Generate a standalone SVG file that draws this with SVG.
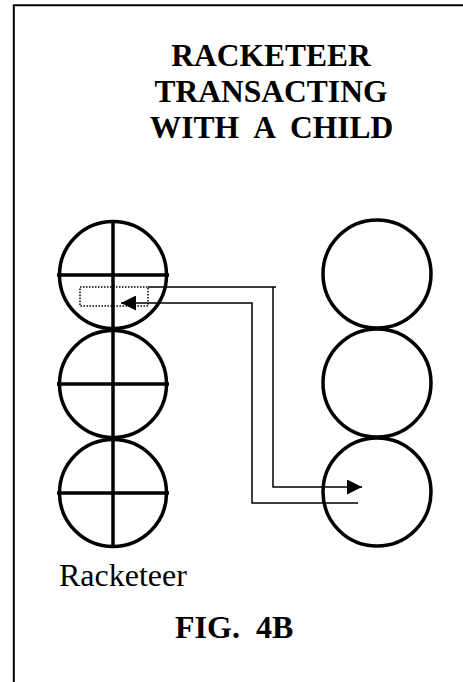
<svg xmlns="http://www.w3.org/2000/svg" width="463" height="682" viewBox="0 0 463 682">
<style>
.t{font-family:"Liberation Serif","Times New Roman",serif;fill:#000}
.b{font-weight:bold}
.c{fill:none;stroke:#000;stroke-width:3.5}
.x{stroke:#000;stroke-width:3.5}
.w{fill:none;stroke:#000;stroke-width:1.5}
</style>
<defs>
<marker id="ah" markerUnits="userSpaceOnUse" markerWidth="15" markerHeight="15" viewBox="0 0 15 15" refX="15" refY="7.5" orient="auto">
<path d="M0,0 L15,7.5 L0,15 z" fill="#000"/>
</marker>
</defs>
<rect width="463" height="682" fill="#fff"/>
<path d="M13.8,682 V5.3 H463" fill="none" stroke="#000" stroke-width="2"/>
<g id="title">
<text class="t b" font-size="31.5" text-anchor="middle" x="271" y="66">RACKETEER</text>
<text class="t b" font-size="31.5" text-anchor="middle" x="271" y="102">TRANSACTING</text>
<text class="t b" font-size="31.5" text-anchor="middle" x="271.5" y="138" xml:space="preserve">WITH  A  CHILD</text>
</g>
<g id="racketeer">
<circle class="c" cx="113" cy="275" r="53.5"/>
<circle class="c" cx="113" cy="384" r="53.5"/>
<circle class="c" cx="113" cy="493" r="53.5"/>
<line class="x" x1="113" y1="220" x2="113" y2="548"/>
<line class="x" x1="57" y1="275" x2="169" y2="275"/>
<line class="x" x1="57" y1="384" x2="169" y2="384"/>
<line class="x" x1="57" y1="493" x2="169" y2="493"/>
<rect x="80" y="287" width="68" height="19" fill="none" stroke="#000" stroke-width="1.5" stroke-dasharray="1.5 1.5"/>
</g>
<g id="child">
<circle class="c" cx="377" cy="274" r="54"/>
<circle class="c" cx="377" cy="383" r="54"/>
<circle class="c" cx="377" cy="492" r="54"/>
</g>
<g id="connectors">
<path class="w" d="M148,287 H276 M273,287 V487 H362" marker-end="url(#ah)"/>
<path class="w" d="M358,503 H252 V303 H121" marker-end="url(#ah)"/>
</g>
<g id="labels">
<text class="t" font-size="32" x="59" y="586">Racketeer</text>
<text class="t b" font-size="32" x="175" y="638" xml:space="preserve">FIG.  4B</text>
</g>
</svg>
